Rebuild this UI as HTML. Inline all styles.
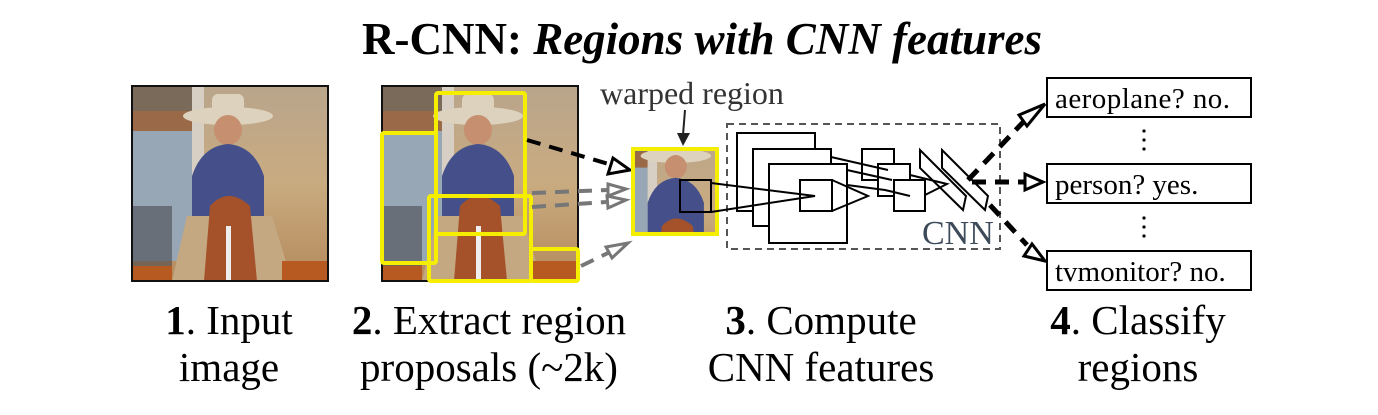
<!DOCTYPE html>
<html><head><meta charset="utf-8"><style>
html,body{margin:0;padding:0;background:#fff;width:1378px;height:415px;overflow:hidden}
svg{display:block}
text{font-family:"Liberation Serif",serif}
</style></head><body>
<svg width="1378" height="415" viewBox="0 0 1378 415" xmlns="http://www.w3.org/2000/svg">
<defs>
<linearGradient id="bg" x1="0" y1="0" x2="0" y2="1">
<stop offset="0" stop-color="#b9a58c"/><stop offset="0.5" stop-color="#c9ab80"/><stop offset="1" stop-color="#b48a5c"/>
</linearGradient>
<g id="photo">
<rect x="0" y="0" width="196" height="195" fill="url(#bg)"/>
<rect x="0" y="0" width="60" height="25" fill="#7a6a5a"/>
<rect x="0" y="25" width="60" height="45" fill="#9a6a48"/>
<rect x="0" y="45" width="60" height="130" fill="#97a7b5"/>
<rect x="60" y="0" width="12" height="130" fill="#d8cfc4"/>
<rect x="0" y="120" width="40" height="60" fill="#4a4a50" opacity="0.6"/>
<ellipse cx="96" cy="30" rx="45" ry="9" fill="#ddd2bd"/>
<rect x="80" y="8" width="32" height="22" rx="6" fill="#ddd2bd"/>
<ellipse cx="96" cy="44" rx="14" ry="15" fill="#c58f70"/>
<path d="M60 90 Q70 60 96 58 Q122 60 132 90 L132 130 L60 130Z" fill="#45508a"/>
<path d="M40 195 L55 130 L140 130 L160 195Z" fill="#c4a882"/>
<path d="M72 195 L78 120 Q96 100 118 120 L125 195Z" fill="#a5522a"/>
<rect x="94" y="140" width="5" height="55" fill="#eee"/>
<rect x="0" y="180" width="40" height="15" fill="#b65a22"/>
<rect x="150" y="175" width="46" height="20" fill="#b65a22"/>
</g>
</defs>

<text x="702" y="54" text-anchor="middle" font-size="45" font-weight="bold">R-CNN: <tspan font-style="italic">Regions with CNN features</tspan></text>

<g transform="translate(132,86)"><use href="#photo"/></g>
<rect x="132" y="86" width="196" height="195" fill="none" stroke="#111" stroke-width="2"/>

<g transform="translate(382,86)"><use href="#photo"/></g>
<rect x="382" y="86" width="196" height="195" fill="none" stroke="#111" stroke-width="2"/>
<g fill="none" stroke="#f5ee00" stroke-width="4">
<rect x="436" y="93" width="89" height="141" rx="2"/>
<rect x="382" y="133" width="54" height="130" rx="2"/>
<rect x="429" y="196" width="102" height="85" rx="2"/>
<rect x="531" y="249" width="47" height="32" rx="2"/>
</g>

<g fill="none" stroke-width="4" stroke-dasharray="14,9">
<line x1="527" y1="140" x2="612" y2="165" stroke="#000"/>
<line x1="532" y1="193" x2="608" y2="190" stroke="#777"/>
<line x1="532" y1="207" x2="606" y2="202" stroke="#777"/>
<line x1="581" y1="266" x2="610" y2="252" stroke="#777"/>
</g>
<g fill="#fff" stroke-width="3">
<polygon points="630,170 608,174 613,158" stroke="#000"/>
<polygon points="626,189 608,196 608,184" stroke="#777"/>
<polygon points="626,200 608,208 607,196" stroke="#777"/>
<polygon points="628,243 612,258 606,247" stroke="#777"/>
</g>

<text x="600" y="104" font-size="32" fill="#333">warped region</text>
<line x1="685" y1="110" x2="683" y2="135" stroke="#222" stroke-width="2"/>
<polygon points="677,133 690,133 683,146" fill="#222"/>

<svg x="632" y="148" width="86" height="87" viewBox="40 20 110 111" preserveAspectRatio="none"><use href="#photo"/></svg>
<rect x="633" y="149" width="84" height="85" fill="none" stroke="#f5ee00" stroke-width="4"/>
<rect x="680" y="180" width="31" height="32" fill="none" stroke="#000" stroke-width="2"/>

<rect x="727" y="124" width="273" height="125" fill="none" stroke="#555" stroke-width="2" stroke-dasharray="7,5"/>
<g fill="#fff" stroke="#000" stroke-width="2">
<rect x="737" y="133" width="78" height="78"/>
<rect x="753" y="149" width="78" height="77"/>
<rect x="769" y="164" width="78" height="79"/>
<rect x="800" y="180" width="32" height="31" fill="none"/>
<rect x="862" y="149" width="32" height="31"/>
<rect x="878" y="164" width="32" height="32"/>
<rect x="894" y="180" width="31" height="31"/>
<polygon points="920,150 966,196 963,210 920,168"/>
<polygon points="942,150 988,196 985,210 942,168"/>
</g>
<g fill="none" stroke="#000" stroke-width="2">
<polyline points="711,183 815,196 711,212"/>
<polyline points="832,180 868,196 832,211"/>
<polyline points="831,157 888,170"/>
<polyline points="847,170 892,180"/>
<polyline points="847,185 885,190 910,196"/>
<polyline points="910,175 947,184 925,195"/>
</g>
<text x="922" y="244" font-size="34" fill="#3d4a5a">CNN</text>

<g fill="none" stroke="#000" stroke-width="5" stroke-dasharray="14,9">
<line x1="968" y1="180" x2="1030" y2="115"/>
<line x1="972" y1="182" x2="1025" y2="182"/>
<line x1="990" y1="205" x2="1027" y2="245"/>
</g>
<g fill="#fff" stroke="#000" stroke-width="3">
<polygon points="1045,104 1027,126 1019,115"/>
<polygon points="1043,182 1025,190 1025,174"/>
<polygon points="1045,261 1024,256 1032,244"/>
</g>

<g fill="#fff" stroke="#000" stroke-width="2">
<rect x="1047" y="78" width="204" height="39"/>
<rect x="1047" y="164" width="204" height="39"/>
<rect x="1047" y="251" width="204" height="39"/>
</g>
<g font-size="29" fill="#000">
<text x="1055" y="108" textLength="175">aeroplane? no.</text>
<text x="1055" y="194">person? yes.</text>
<text x="1055" y="281">tvmonitor? no.</text>
</g>
<g fill="#000">
<circle cx="1144" cy="131" r="1.6"/><circle cx="1144" cy="140" r="1.6"/><circle cx="1144" cy="149" r="1.6"/>
<circle cx="1144" cy="218" r="1.6"/><circle cx="1144" cy="227" r="1.6"/><circle cx="1144" cy="236" r="1.6"/>
</g>

<g font-size="41" fill="#000" text-anchor="middle">
<text x="229" y="334"><tspan font-weight="bold">1</tspan>. Input</text>
<text x="229" y="381">image</text>
<text x="489" y="334"><tspan font-weight="bold">2</tspan>. Extract region</text>
<text x="489" y="381">proposals (~2k)</text>
<text x="821" y="334"><tspan font-weight="bold">3</tspan>. Compute</text>
<text x="821" y="381">CNN features</text>
<text x="1138" y="334"><tspan font-weight="bold">4</tspan>. Classify</text>
<text x="1138" y="381">regions</text>
</g>
</svg>
</body></html>
